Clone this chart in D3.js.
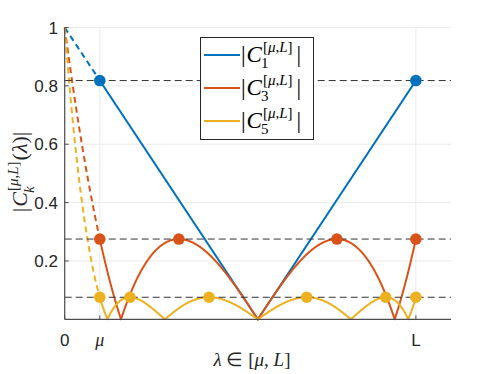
<!DOCTYPE html>
<html><head><meta charset="utf-8">
<script src="https://cdn.jsdelivr.net/npm/d3@7"></script>
<style>body{margin:0;background:#fff}svg{display:block}</style>
</head><body>
<svg id="c" width="498" height="374"></svg>
<script>
// ---- data ----
const mu = 1, L = 10;                 // interval [mu, L]
const xMax = 11;                      // x-axis extent
const degrees = [1, 3, 5];            // Chebyshev degrees k
const colors = ["#0072BD", "#D95319", "#EDB120"];
const xTickValues = [0, mu, L];
const xTickLabels = ["0", "μ", "L"];
const yTickValues = [0.2, 0.4, 0.6, 0.8, 1];
const yTickLabels = ["0.2", "0.4", "0.6", "0.8", "1"];
const legendSub = ["1", "3", "5"];

// ---- scales ----
const svg = d3.select("#c");
const x = d3.scaleLinear().domain([0, xMax]).range([64.7, 451]);
const y = d3.scaleLinear().domain([0, 1]).range([319.3, 27.5]);

function cheb(k, t) { let a = 1, b = t; if (k === 0) return 1; for (let i = 1; i < k; i++) { const c = 2*t*b - a; a = b; b = c; } return b; }
const sigma = (L + mu) / (L - mu);
function Ck(k, lam) { return Math.abs(cheb(k, (L + mu - 2*lam)/(L - mu)) / cheb(k, sigma)); }

const sans = "Helvetica, Arial, 'Liberation Sans', sans-serif";
const serif = "'Liberation Serif', 'Times New Roman', serif";
const axisCol = "#4d4d4d";

// grid
const g = svg.append("g");
g.selectAll(".gx").data(xTickValues).join("line")
  .attr("x1", d => x(d)).attr("x2", d => x(d)).attr("y1", y(0)).attr("y2", y(1))
  .attr("stroke", "#ebebeb").attr("stroke-width", 1);
g.selectAll(".gy").data(yTickValues).join("line")
  .attr("x1", x(0)).attr("x2", x(xMax)).attr("y1", d => y(d)).attr("y2", d => y(d))
  .attr("stroke", "#ebebeb").attr("stroke-width", 1);

// curves
const line = d3.line().x(d => x(d[0])).y(d => y(d[1]));
degrees.forEach((k, i) => {
  const N = 1200;
  const dashed = d3.range(0, 101).map(j => { const l = mu * j / 100; return [l, Ck(k, l)]; });
  const solid = d3.range(0, N + 1).map(j => { const l = mu + (L - mu) * j / N; return [l, Ck(k, l)]; });
  svg.append("path").attr("d", line(dashed)).attr("fill", "none").attr("stroke", colors[i])
    .attr("stroke-width", 2).attr("stroke-dasharray", "6,4");
  svg.append("path").attr("d", line(solid)).attr("fill", "none").attr("stroke", colors[i])
    .attr("stroke-width", 2);
});

// horizontal reference lines
degrees.forEach(k => {
  const v = 1 / cheb(k, sigma);
  svg.append("line").attr("x1", x(0)).attr("x2", x(xMax)).attr("y1", y(v)).attr("y2", y(v))
    .attr("stroke", "#333").attr("stroke-width", 1).attr("stroke-dasharray", "7,4");
});

// markers at extrema
degrees.forEach((k, i) => {
  const pts = d3.range(0, k + 1).map(j => { const l = (L + mu - Math.cos(j*Math.PI/k)*(L - mu))/2; return [l, Ck(k, l)]; });
  svg.selectAll(null).data(pts).join("circle")
    .attr("cx", d => x(d[0])).attr("cy", d => y(d[1])).attr("r", 5.8).attr("fill", colors[i]);
});

// axes lines
svg.append("line").attr("x1", x(0)).attr("x2", x(0)).attr("y1", y(0)).attr("y2", y(1)).attr("stroke", axisCol).attr("stroke-width", 1.2);
svg.append("line").attr("x1", x(0)).attr("x2", x(xMax)).attr("y1", y(0)).attr("y2", y(0)).attr("stroke", axisCol).attr("stroke-width", 1.2);
svg.selectAll(".ty").data(yTickValues).join("line").attr("x1", x(0)).attr("x2", x(0)+4)
  .attr("y1", d => y(d)).attr("y2", d => y(d)).attr("stroke", axisCol);
svg.selectAll(".tx").data(xTickValues).join("line").attr("x1", d => x(d)).attr("x2", d => x(d))
  .attr("y1", y(0)).attr("y2", y(0)-4).attr("stroke", axisCol);

// tick labels
svg.selectAll(".yl").data(yTickValues).join("text")
  .attr("x", 58).attr("y", d => y(d)).attr("dy", "0.36em").attr("text-anchor", "end")
  .attr("font-family", sans).attr("font-size", 17).attr("fill", "#262626")
  .text((d, i) => yTickLabels[i]);
svg.selectAll(".xl").data(xTickValues).join("text")
  .attr("x", d => x(d)).attr("y", 346).attr("text-anchor", "middle")
  .attr("font-family", (d, i) => i === 1 ? serif : sans)
  .attr("font-style", (d, i) => i === 1 ? "italic" : "normal")
  .attr("font-size", (d, i) => i === 1 ? 18 : 17).attr("fill", "#262626")
  .text((d, i) => xTickLabels[i]);

// x label
const xl = svg.append("text").attr("x", 252).attr("y", 366).attr("text-anchor", "middle")
  .attr("font-family", serif).attr("font-size", 19).attr("fill", "#262626");
xl.append("tspan").attr("font-style", "italic").text("λ");
xl.append("tspan").text(" ∈ [");
xl.append("tspan").attr("font-style", "italic").text("μ");
xl.append("tspan").text(", ");
xl.append("tspan").attr("font-style", "italic").text("L");
xl.append("tspan").text("]");

// helper: "|C^{[μ,L]}_{sub}" ; returns end x
function cTerm(parent, x0, base, big, small, sub, subItalic, supUp, subDown, col) {
  const t1 = parent.append("text").attr("x", x0).attr("y", base).attr("font-family", serif)
    .attr("font-size", big).attr("fill", col).text("|");
  let cx = x0 + t1.node().getComputedTextLength() + 1;
  const t2 = parent.append("text").attr("x", cx).attr("y", base).attr("font-family", serif)
    .attr("font-size", big).attr("font-style", "italic").attr("fill", col).text("C");
  cx += t2.node().getComputedTextLength() + 1;
  const sup = parent.append("text").attr("x", cx).attr("y", base - supUp).attr("font-family", serif)
    .attr("font-size", small).attr("fill", col);
  sup.append("tspan").text("[");
  sup.append("tspan").attr("font-style", "italic").text("μ");
  sup.append("tspan").text(",");
  sup.append("tspan").attr("font-style", "italic").text("L");
  sup.append("tspan").text("]");
  const sb = parent.append("text").attr("x", cx - 2).attr("y", base + subDown).attr("font-family", serif)
    .attr("font-size", small).attr("font-style", subItalic ? "italic" : "normal").attr("fill", col).text(sub);
  return cx + Math.max(sup.node().getComputedTextLength(), sb.node().getComputedTextLength()) + 1;
}

// y label (rotated)
const ylg = svg.append("g");
const yInner = ylg.append("g");
let ex = cTerm(yInner, 0, 0, 22, 15, "k", true, 9, 7, "#262626");
const tail = yInner.append("text").attr("x", ex).attr("y", 0).attr("font-family", serif)
  .attr("font-size", 22).attr("fill", "#262626");
tail.append("tspan").text("(");
tail.append("tspan").attr("font-style", "italic").text("λ");
tail.append("tspan").text(")|");
ex += tail.node().getComputedTextLength();
ylg.attr("transform", `translate(27,${172 + ex/2}) rotate(-90)`);

// legend
const lg = svg.append("g");
lg.append("rect").attr("x", 200.5).attr("y", 37.5).attr("width", 113).attr("height", 102)
  .attr("fill", "#fff").attr("stroke", "#262626").attr("stroke-width", 1);
const ly = [55, 88, 121];
degrees.forEach((k, i) => {
  const yy = ly[i];
  lg.append("line").attr("x1", 204).attr("x2", 240).attr("y1", yy).attr("y2", yy)
    .attr("stroke", colors[i]).attr("stroke-width", 2);
  const e = cTerm(lg, 241, yy + 7, 23, 15, legendSub[i], false, 10, 6, "#000");
  lg.append("text").attr("x", e + 3).attr("y", yy + 7).attr("font-family", serif).attr("font-size", 23).attr("fill", "#000").text("|");
});
</script>
</body></html>
